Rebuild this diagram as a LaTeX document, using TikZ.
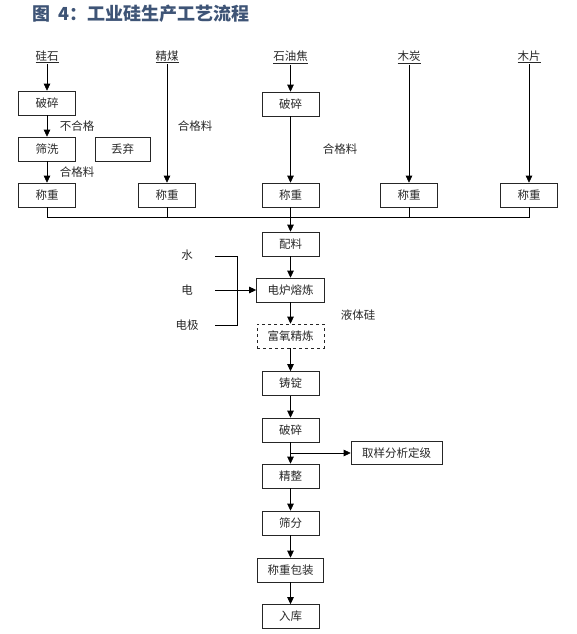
\documentclass[tikz,border=0pt]{standalone}
\usepackage{fontspec}
\setmainfont{Noto Sans CJK SC}
\usetikzlibrary{arrows.meta}
\definecolor{titleblue}{RGB}{62,84,118}
\definecolor{txt}{RGB}{40,40,40}
\begin{document}
\begin{tikzpicture}[x=1pt,y=-1pt,
  box/.style={draw=black!85, line width=0.6pt, inner sep=0pt, minimum width=57pt, minimum height=24pt, text=txt, font=\fontsize{11.5}{13}\selectfont},
  lbl/.style={inner sep=1pt, text=txt, font=\fontsize{11.5}{13}\selectfont},
  arr/.style={-{Triangle[length=7pt,width=6.5pt]}, line width=0.6pt},
  ln/.style={line width=0.6pt}]
\useasboundingbox (0,0) rectangle (577,634);
\node[anchor=west, inner sep=0pt, text=titleblue, font=\fontsize{18}{20}\selectfont\bfseries] (title) at (32,14) {图\hspace{8pt}4：工业硅生产工艺流程};
% sources
\node[lbl] (t1) at (47,57) {\underline{硅石}};
\node[lbl] (t2) at (167,57) {\underline{精煤}};
\node[lbl] (t3) at (290.5,57) {\underline{石油焦}};
\node[lbl] (t4) at (409,57) {\underline{木炭}};
\node[lbl] (t5) at (529,57) {\underline{木片}};
% column 1
\node[box] (b1) at (47,103) {破碎};
\node[box] (s1) at (47,149) {筛洗};
\node[box, minimum width=55pt] (d1) at (122.5,149) {丢弃};
\node[box] (w1) at (47,195) {称重};
\node[lbl] (l1) at (77,126) {不合格};
\node[lbl] (l2) at (77,172) {合格料};
% column 2
\node[box] (w2) at (167,195) {称重};
\node[lbl] (l3) at (195,126) {合格料};
% column 3
\node[box] (b3) at (290.5,104) {破碎};
\node[box] (w3) at (290.5,195) {称重};
\node[lbl] (l4) at (340,149) {合格料};
% columns 4,5
\node[box] (w4) at (409,195) {称重};
\node[box] (w5) at (529,195) {称重};
% main chain
\node[box] (pl) at (290.5,244) {配料};
\node[box, minimum width=68pt] (ef) at (290.5,290) {电炉熔炼};
\node[box, minimum width=67pt, dashed] (fy) at (290.5,336) {富氧精炼};
\node[box] (zd) at (290.5,383.5) {铸锭};
\node[box] (ps) at (290.5,430) {破碎};
\node[box] (jz) at (290.5,476) {精整};
\node[box, minimum width=91pt, minimum height=23pt] (qy) at (396.5,453) {取样分析定级};
\node[box] (sf) at (290.5,523) {筛分};
\node[box, minimum width=66pt] (bz) at (290.5,570) {称重包装};
\node[box] (rk) at (290.5,616.5) {入库};
% side labels
\node[lbl] (sw) at (187,255) {水};
\node[lbl] (dn) at (187,290) {电};
\node[lbl] (dj) at (187,325) {电极};
\node[lbl] (yt) at (358,315) {液体硅};
% coordinates
\coordinate (bus) at (0,217);
\coordinate (brA) at (215,256);
\coordinate (brB) at (237,256);
\coordinate (brC) at (237,325);
\coordinate (brD) at (215,325);
\coordinate (brM) at (215,290);
\coordinate (tap) at (290.5,453);
% column arrows
\draw[arr] (t1.south) -- (b1.north);
\draw[arr] (b1.south) -- (s1.north);
\draw[arr] (s1.south) -- (w1.north);
\draw[arr] (t2.south) -- (w2.north);
\draw[arr] (t3.south) -- (b3.north);
\draw[arr] (b3.south) -- (w3.north);
\draw[arr] (t4.south) -- (w4.north);
\draw[arr] (t5.south) -- (w5.north);
% bus
\draw[ln] (w1.south) -- (w1.south |- bus) -- (w5.south |- bus) -- (w5.south);
\draw[ln] (w2.south) -- (w2.south |- bus);
\draw[ln] (w4.south) -- (w4.south |- bus);
\draw[arr] (w3.south) -- (pl.north);
% chain
\draw[arr] (pl.south) -- (ef.north);
\draw[arr] (ef.south) -- (fy.north);
\draw[arr] (fy.south) -- (zd.north);
\draw[arr] (zd.south) -- (ps.north);
\draw[arr] (ps.south) -- (jz.north);
\draw[arr] (jz.south) -- (sf.north);
\draw[arr] (sf.south) -- (bz.north);
\draw[arr] (bz.south) -- (rk.north);
\draw[arr] (tap) -- (qy.west);
% bracket
\draw[ln] (brA) -- (brB) -- (brC) -- (brD);
\draw[arr] (brM) -- (ef.west);
\end{tikzpicture}
\end{document}
